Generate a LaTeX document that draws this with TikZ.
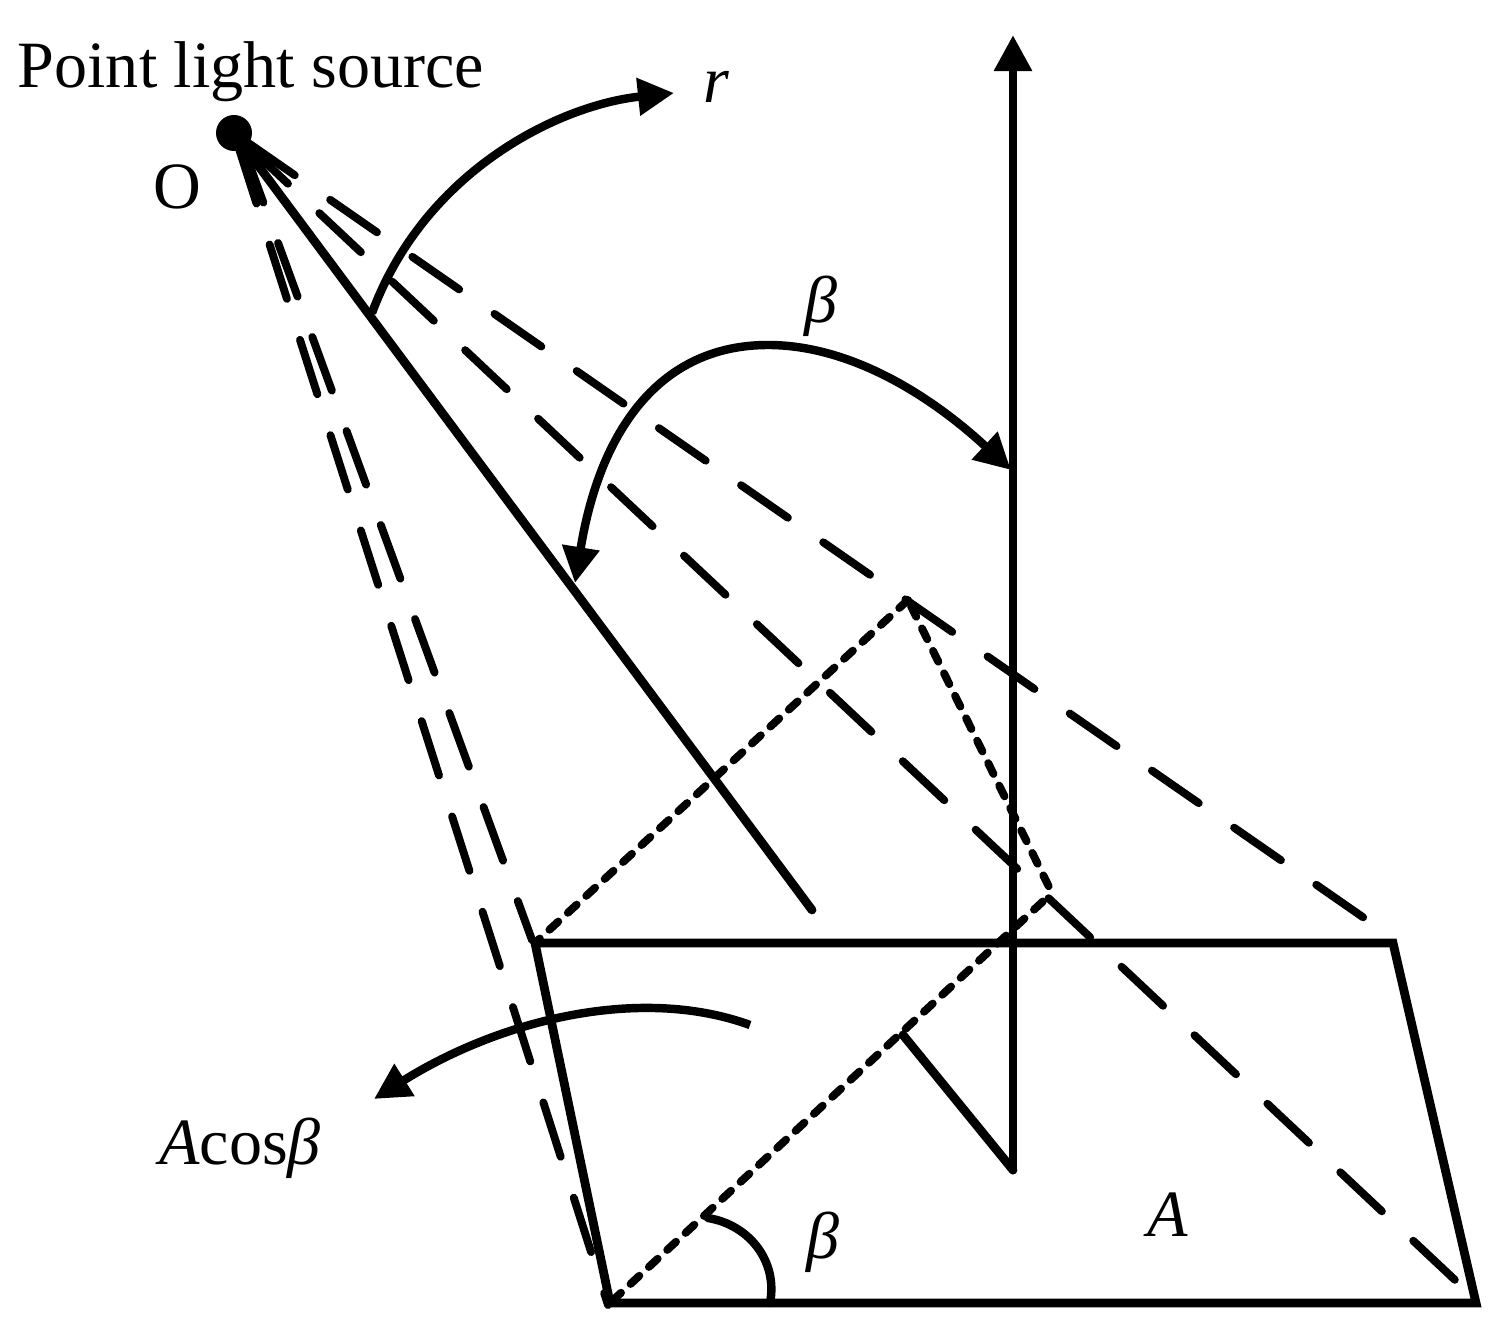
\documentclass[tikz,border=0pt]{standalone}
\usepackage{fontspec}
\setmainfont{Liberation Serif}
\usetikzlibrary{arrows.meta}
\tikzset{
  solidline/.style={black,line width=2.5pt,line cap=round,line join=miter},
  rayline/.style={black,line width=2.25pt,line cap=round,dash pattern=on 0.57cm off 0.43cm,dash phase=0.83cm},
  dotline/.style={black,line width=2.25pt,line cap=round,dash pattern=on 0.12cm off 0.13cm},
  headtip/.tip={Triangle[length=0.36cm,width=0.36cm]},
  bendarrow/.style={black,line width=2.4pt},
  textlabel/.style={font=\fontsize{18.8pt}{22pt}\selectfont,inner sep=0pt},
}
\begin{document}
\begin{tikzpicture}[x=0.01cm,y=0.01cm]
\useasboundingbox (0,0) rectangle (1502,-1340);
% frame of the surface
\coordinate (O) at (234,-133);
\coordinate (P1) at (535,-943);
\coordinate (P2) at (1393,-943);
\coordinate (P3) at (1476,-1303);
\coordinate (P4) at (610,-1303);
\coordinate (N0) at (1013,-1170);
\coordinate (N1) at (1013,-35);
\coordinate (N2) at (903,-1035);
\coordinate (Q) at (908,-600);
\coordinate (R) at (1052,-893);
\coordinate (S) at (372,-313);
\coordinate (T) at (812,-910);
\draw [solidline] (P1) -- (P2) -- (P3) -- (P4) -- cycle;
\draw [solidline] (O) -- (T);
\draw [solidline] (N2) -- (N0);
\draw [solidline,-headtip] (N0) -- (N1);
\fill [black] (O) circle (18);
% rays
\coordinate (E1) at (1367,-920);
\coordinate (E2) at (1455,-1280);
\coordinate (O3) at (238,-133);
\coordinate (E3) at (532,-940);
\coordinate (E4) at (608,-1305);
\draw [rayline] (O) -- (E1);
\draw [rayline] (O) -- (E2);
\draw [rayline] (O3) -- (E3);
\draw [rayline] (O) -- (E4);
% dotted plane
\draw [dotline,dash phase=0.22cm] (P4) -- (R);
\draw [dotline,dash phase=0.174cm] (R) -- (Q);
\draw [dotline,dash phase=0.054cm] (P1) -- (Q);
% arcs
\draw [bendarrow,-headtip] (S) .. controls (425,-170) and (560,-105) .. (674,-93);
\draw [bendarrow,headtip-headtip] (1011,-470) .. controls (930,-395) and (850,-345) .. (768,-345) .. controls (660,-345) and (600,-430) .. (575,-583);
\draw [bendarrow,-headtip] (750,-1025) .. controls (640,-985) and (500,-1020) .. (374,-1099);
\draw [bendarrow,line cap=round] (708,-1218) .. controls (750,-1225) and (778,-1262) .. (770,-1303);
% labels
\node [textlabel] (src) at (251,-72) {Point light source};
\node [textlabel] (o) at (177,-187) {O};
\node [textlabel] (r) at (716,-87) {\itshape r};
\node [textlabel] (b1) at (821,-306) {\itshape β};
\node [textlabel] (b2) at (823,-1242) {\itshape β};
\node [textlabel] (a) at (1168,-1215) {\itshape A};
\node [textlabel] (ac) at (240,-1148) {{\itshape A}cos{\itshape β}};
\end{tikzpicture}
\end{document}
